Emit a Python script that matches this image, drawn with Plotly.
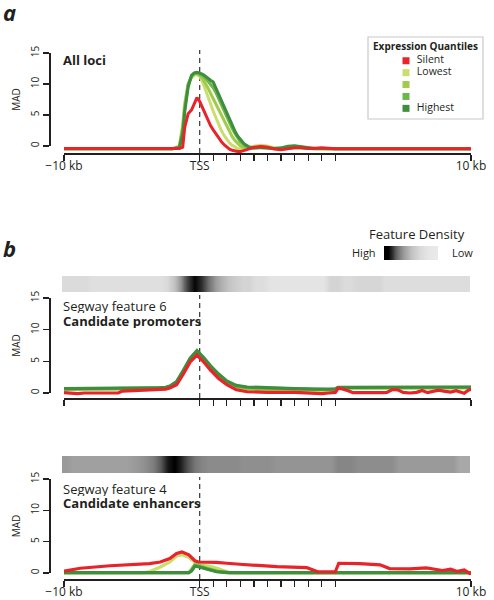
import plotly.graph_objects as go

# ---------------- data ----------------
TICK_POS = [0, 10, 11, 12, 13, 14, 15, 16, 17, 18, 19, 20, 30]
TICK_TEXT = ["\u221210 kb", "TSS", "", "", "", "", "", "", "", "", "", "", "10 kb"]
TSS_POS = 10
MAD_TICKS = [0, 5, 10, 15]

QUANTILES = ["Silent", "Lowest", "", "", "Highest"]
COLORS = ["#e8232a", "#cade6d", "#a1cb4b", "#6fb649", "#3e8e3e"]

# Panel a: all loci
XA = [0, 8.0, 8.5, 8.75, 8.9, 9.15, 9.4, 9.6, 9.8, 10.0, 10.2, 10.4, 10.6, 10.8, 11.0,
      11.2, 11.4, 11.6, 11.8, 12.0, 12.2, 12.4, 12.6, 12.8, 13.0, 13.3, 13.6, 14.0, 14.5,
      15.0, 15.5, 16.0, 16.5, 17.0, 17.5, 18.0, 18.5, 19.0, 20.0, 30]
A_SILENT = [-0.4, -0.4, -0.4, -0.2, 3.0, 5.2, 5.8, 6.8, 7.8, 7.2, 6.2, 5.2, 4.2, 3.3, 2.6,
            1.9, 1.3, 0.7, 0.2, -0.2, -0.5, -0.7, -0.85, -0.9, -0.9, -0.75, -0.5, -0.2, -0.1,
            -0.2, -0.5, -0.6, -0.45, -0.3, -0.3, -0.4, -0.35, -0.3, -0.45, -0.45]
A_LOWEST = [-0.45, -0.45, 0.0, 3.5, 7.0, 10.0, 11.0, 11.4, 11.6, 11.2, 10.4, 9.3, 8.0, 6.8, 5.6,
            4.5, 3.4, 2.5, 1.7, 1.0, 0.5, 0.1, -0.2, -0.4, -0.5, -0.5, -0.35, -0.05, 0.1,
            0.0, -0.3, -0.45, -0.4, -0.3, -0.35, -0.4, -0.45, -0.4, -0.45, -0.45]
A_Q2 = [-0.45, -0.45, -0.1, 3.0, 6.5, 10.0, 11.2, 11.6, 11.7, 11.4, 10.9, 10.2, 9.4, 8.5, 7.6,
        6.7, 5.8, 4.9, 4.0, 3.1, 2.3, 1.5, 0.9, 0.4, 0.0, -0.3, -0.4, -0.3, -0.1,
        -0.2, -0.4, -0.4, -0.3, -0.2, -0.3, -0.4, -0.45, -0.4, -0.45, -0.45]
A_Q3 = [-0.45, -0.45, -0.2, 2.5, 6.0, 9.8, 11.3, 11.7, 11.8, 11.6, 11.4, 11.0, 10.5, 10.0, 9.4,
        8.6, 7.6, 6.6, 5.6, 4.6, 3.7, 2.8, 2.0, 1.3, 0.7, 0.1, -0.3, -0.35, -0.2,
        -0.3, -0.4, -0.35, -0.15, -0.05, -0.2, -0.4, -0.45, -0.4, -0.45, -0.45]
A_HIGHEST = [-0.45, -0.45, -0.3, 2.0, 5.5, 9.5, 11.4, 11.8, 11.9, 11.8, 11.6, 11.3, 10.9, 10.6, 10.3,
             9.3, 8.3, 7.3, 6.2, 5.2, 4.2, 3.2, 2.4, 1.6, 1.0, 0.3, -0.1, -0.3, -0.3,
             -0.35, -0.4, -0.3, -0.05, 0.05, -0.1, -0.35, -0.4, -0.4, -0.45, -0.45]

# Panel b (top): Segway feature 6, candidate promoters
XB1 = [0, 0.5, 1, 1.5, 2, 4, 4.3, 6, 7, 7.5, 7.8, 8.3, 8.8, 9.3, 9.8, 10.3, 10.8, 11.4, 12.0,
       12.7, 13.5, 15, 17, 18.5, 19.0, 19.5, 20.0, 20.2, 20.6, 21.0, 21.3, 23.5, 23.8, 24.2,
       24.6, 25.0, 25.5, 26.0, 26.4, 26.8, 27.2, 27.6, 28.0, 28.5, 28.9, 29.2, 29.5, 29.8, 30]
B1_SILENT = [0.05, 0.0, -0.1, 0.0, 0.0, 0.0, 0.3, 0.45, 0.5, 0.6, 0.8, 1.3, 3.0, 4.9, 6.0,
             4.9, 3.6, 2.3, 1.3, 0.5, 0.2, 0.1, 0.1, 0.0, -0.1, 0.0, 0.1, 0.75, 0.6, 0.3,
             0.05, 0.05, 0.1, 0.55, 0.5, 0.1, 0.0, 0.1, 0.4, 0.05, 0.2, 0.45, 0.3, 0.15, 0.35,
             0.2, -0.05, 0.45, 0.6]
B1_LOWEST = [0.55, 0.55, 0.55, 0.55, 0.55, 0.6, 0.6, 0.65, 0.7, 0.75, 0.95, 1.5, 3.3, 5.2, 6.4,
             5.0, 3.7, 2.5, 1.5, 0.8, 0.55, 0.45, 0.4, 0.35, 0.3, 0.35, 0.4, 0.75, 0.75, 0.75,
             0.75, 0.75, 0.75, 0.75, 0.75, 0.75, 0.75, 0.75, 0.75, 0.75, 0.75, 0.75, 0.75, 0.75, 0.75,
             0.75, 0.75, 0.8, 0.8]
B1_Q2 = [0.6, 0.6, 0.6, 0.6, 0.6, 0.65, 0.65, 0.7, 0.75, 0.8, 1.0, 1.6, 3.4, 5.3, 6.5,
         5.2, 3.9, 2.6, 1.6, 0.9, 0.7, 0.6, 0.55, 0.5, 0.45, 0.5, 0.55, 0.8, 0.8, 0.8,
         0.8, 0.8, 0.8, 0.8, 0.8, 0.8, 0.8, 0.8, 0.8, 0.8, 0.8, 0.8, 0.8, 0.8, 0.8,
         0.8, 0.8, 0.85, 0.85]
B1_Q3 = [0.65, 0.65, 0.65, 0.65, 0.65, 0.7, 0.7, 0.75, 0.8, 0.85, 1.05, 1.7, 3.5, 5.4, 6.6,
         5.4, 4.1, 2.8, 1.75, 1.05, 0.85, 0.75, 0.65, 0.55, 0.5, 0.55, 0.6, 0.85, 0.85, 0.85,
         0.85, 0.85, 0.85, 0.85, 0.85, 0.85, 0.85, 0.85, 0.85, 0.85, 0.85, 0.85, 0.85, 0.85, 0.85,
         0.85, 0.85, 0.9, 0.9]
B1_HIGHEST = [0.7, 0.7, 0.7, 0.7, 0.7, 0.75, 0.75, 0.8, 0.85, 0.9, 1.1, 1.8, 3.6, 5.5, 6.7,
              5.6, 4.3, 3.0, 1.9, 1.2, 0.95, 0.8, 0.7, 0.6, 0.55, 0.6, 0.65, 0.9, 0.9, 0.9,
              0.9, 0.9, 0.9, 0.88, 0.88, 0.88, 0.88, 0.88, 0.9, 0.9, 0.9, 0.9, 0.9, 0.9, 0.9,
              0.9, 0.92, 0.95, 0.95]

# Panel b (bottom): Segway feature 4, candidate enhancers
XB2 = [0, 1.2, 3.4, 5.9, 6.3, 7.1, 7.8, 8.3, 8.7, 9.2, 9.4, 9.65, 9.9, 10.0, 10.5, 11.25, 12.0,
       12.2, 13.2, 15.7, 17.9, 18.7, 20.0, 20.25, 21.8, 23.3, 24.0, 25.5, 26.7, 27.9, 28.5,
       29.0, 29.5, 30]
B2_SILENT = [0.3, 0.75, 1.15, 1.45, 1.5, 1.75, 2.3, 3.1, 3.35, 2.9, 2.5, 1.95, 1.75, 1.75, 1.75,
             1.7, 1.55, 1.5, 1.35, 1.0, 0.85, 0.2, 0.2, 1.55, 1.5, 1.3, 0.7, 0.65, 0.8, 0.4,
             0.6, 0.25, 0.5, -0.2]
B2_LOWEST = [0.05, 0.05, 0.05, 0.05, 0.2, 0.95, 1.75, 2.7, 2.9, 2.5, 2.1, 1.7, 1.6, 1.55, 1.2,
             0.8, 0.15, 0.05, 0.05, 0.05, 0.05, 0.05, 0.05, 0.05, 0.05, 0.05, 0.05, 0.05, 0.05,
             0.05, 0.05, 0.05, 0.05, 0.05]
B2_Q2 = [0.05, 0.05, 0.05, 0.05, 0.05, 0.05, 0.05, 0.05, 0.05, 0.05, 0.6, 1.4, 1.3, 1.2, 0.8,
         0.35, 0.05, 0.05, 0.05, 0.05, 0.05, 0.05, 0.05, 0.05, 0.05, 0.05, 0.05, 0.05, 0.05,
         0.05, 0.05, 0.05, 0.05, 0.05]
B2_Q3 = [0.05, 0.05, 0.05, 0.05, 0.05, 0.05, 0.05, 0.05, 0.05, 0.05, 0.4, 1.2, 1.1, 1.05, 0.7,
         0.25, 0.05, 0.05, 0.05, 0.05, 0.05, 0.05, 0.05, 0.05, 0.05, 0.05, 0.05, 0.05, 0.05,
         0.05, 0.05, 0.05, 0.05, 0.05]
B2_HIGHEST = [0.05, 0.05, 0.05, 0.05, 0.05, 0.05, 0.05, 0.05, 0.05, 0.05, 0.3, 1.1, 1.0, 0.95, 0.6,
              0.2, 0.05, 0.05, 0.05, 0.05, 0.05, 0.05, 0.05, 0.05, 0.05, 0.05, 0.05, 0.05, 0.05,
              0.05, 0.05, 0.05, 0.05, 0.05]

# Feature density strips (60 bins of 0.5 units each; 1 = high density)
PROMOTER_DENSITY = [0.07, 0.07, 0.07, 0.07, 0.05, 0.05, 0.05, 0.05, 0.05, 0.05,
                    0.05, 0.05, 0.05, 0.05, 0.05, 0.08, 0.18, 0.39, 0.73, 0.98,
                    0.80, 0.52, 0.35, 0.25, 0.17, 0.13, 0.10, 0.10, 0.06, 0.06,
                    0.03, 0.03, 0.03, 0.03, 0.03, 0.03, 0.03, 0.03, 0.03, 0.10,
                    0.10, 0.07, 0.07, 0.09, 0.09, 0.09, 0.09, 0.06, 0.06, 0.06,
                    0.06, 0.06, 0.06, 0.06, 0.06, 0.06, 0.06, 0.06, 0.06, 0.06]
ENHANCER_DENSITY = [0.35, 0.32, 0.32, 0.32, 0.32, 0.32, 0.32, 0.32, 0.32, 0.32,
                    0.34, 0.37, 0.41, 0.47, 0.62, 0.90, 1.00, 0.85, 0.65, 0.50,
                    0.44, 0.41, 0.41, 0.41, 0.41, 0.41, 0.39, 0.39, 0.39, 0.39,
                    0.39, 0.37, 0.37, 0.37, 0.37, 0.37, 0.37, 0.37, 0.37, 0.37,
                    0.43, 0.43, 0.43, 0.40, 0.40, 0.40, 0.40, 0.40, 0.40, 0.345,
                    0.345, 0.345, 0.345, 0.345, 0.345, 0.345, 0.345, 0.345, 0.285, 0.285]
KEY_LEVELS = [1.0, 0.6, 0.35, 0.18, 0.08, 0.03, 0.01]

# ---------------- figure ----------------
W, H = 494, 600
FONT = "Open Sans"
INK = "#231f20"
GRAY_SCALE = [[0, "#ebebeb"], [1, "#000000"]]


def ydom(top_px, bottom_px):
    return [1 - bottom_px / H, 1 - top_px / H]


XDOM = [64 / W, 471 / W]
STRIP_XDOM = [62 / W, 470 / W]

fig = go.Figure()

panels = [
    ("x", "y", XA, [A_SILENT, A_LOWEST, A_Q2, A_Q3, A_HIGHEST], 3.0),
    ("x3", "y3", XB1, [B1_SILENT, B1_LOWEST, B1_Q2, B1_Q3, B1_HIGHEST], 3.2),
    ("x6", "y6", XB2, [B2_SILENT, B2_LOWEST, B2_Q2, B2_Q3, B2_HIGHEST], 3.2),
]
for xa, ya, xs, series, lw in panels:
    # greens from lowest to highest, silent (red) drawn on top
    for idx in [1, 2, 3, 4, 0]:
        fig.add_trace(go.Scatter(
            x=xs, y=series[idx], mode="lines", xaxis=xa, yaxis=ya,
            line=dict(color=COLORS[idx], width=lw), showlegend=False,
            name=QUANTILES[idx] or "quantile", hoverinfo="skip"))

# empty traces that carry the MAD axes
for xa, ya in [("x2", "y2"), ("x4", "y4"), ("x7", "y7")]:
    fig.add_trace(go.Scatter(x=[], y=[], xaxis=xa, yaxis=ya, showlegend=False,
                             hoverinfo="skip"))

# density strips
for xa, ya, dens in [("x5", "y5", PROMOTER_DENSITY), ("x8", "y8", ENHANCER_DENSITY)]:
    fig.add_trace(go.Heatmap(z=[dens], x0=0.25, dx=0.5, xaxis=xa, yaxis=ya,
                             zmin=0, zmax=1, colorscale=GRAY_SCALE, showscale=False,
                             zsmooth="best", hoverinfo="skip"))

# density key
fig.add_trace(go.Heatmap(z=[KEY_LEVELS], xaxis="x9", yaxis="y9", zmin=0, zmax=1,
                         colorscale=GRAY_SCALE, showscale=False, zsmooth="best",
                         hoverinfo="skip"))

# expression quantile key
fig.add_trace(go.Scatter(
    x=[0 for _ in QUANTILES], y=list(range(len(QUANTILES))), xaxis="x10", yaxis="y10",
    mode="markers+text", text=QUANTILES, texttemplate="\u00a0\u00a0%{text}",
    textposition="middle right",
    textfont=dict(family=FONT, size=10.5, color=INK),
    marker=dict(symbol="square", size=7, color=COLORS),
    cliponaxis=False, showlegend=False, hoverinfo="skip"))

hidden = dict(visible=False, showgrid=False, zeroline=False)


def data_x(anchor, labels):
    return dict(domain=XDOM, range=[0, 30], anchor=anchor, showline=True,
                linecolor=INK, linewidth=1.5, ticks="outside", ticklen=6, tickwidth=1.3,
                tickcolor=INK, tickvals=TICK_POS, ticktext=TICK_TEXT,
                showticklabels=labels, tickfont=dict(family=FONT, size=12, color=INK),
                ticklabelstandoff=-5,
                showgrid=False, zeroline=False, automargin=False)


def mad_axis(top_px, bottom_px):
    return dict(domain=ydom(top_px, bottom_px), range=[0, 15], anchor="free",
                position=49 / W, showline=True, linecolor=INK, linewidth=1.5,
                ticks="outside", ticklen=6, tickwidth=1.3, tickcolor=INK,
                tickvals=MAD_TICKS, tickangle=-90,
                tickfont=dict(family=FONT, size=10, color=INK),
                title=dict(text="MAD", font=dict(family=FONT, size=10, color=INK),
                           standoff=4),
                showgrid=False, zeroline=False, automargin=False)


layout_axes = dict(
    xaxis=data_x("y", True),
    yaxis=dict(domain=ydom(50, 153), range=[-1.13, 15.48], **hidden),
    xaxis2=dict(domain=XDOM, range=[0, 30], anchor="y2", **hidden),
    yaxis2=mad_axis(53, 146),
    xaxis3=data_x("y3", False),
    yaxis3=dict(domain=ydom(295, 398), range=[-0.79, 15.48], **hidden),
    xaxis4=dict(domain=XDOM, range=[0, 30], anchor="y4", **hidden),
    yaxis4=mad_axis(298, 393),
    xaxis5=dict(domain=STRIP_XDOM, range=[0, 30], anchor="y5", **hidden),
    yaxis5=dict(domain=ydom(276, 292), range=[-0.5, 0.5], anchor="x5", **hidden),
    xaxis6=data_x("y6", True),
    yaxis6=dict(domain=ydom(477, 579), range=[-0.96, 15.31], **hidden),
    xaxis7=dict(domain=XDOM, range=[0, 30], anchor="y7", **hidden),
    yaxis7=mad_axis(479, 573),
    xaxis8=dict(domain=STRIP_XDOM, range=[0, 30], anchor="y8", **hidden),
    yaxis8=dict(domain=ydom(456, 473), range=[-0.5, 0.5], anchor="x8", **hidden),
    xaxis9=dict(domain=[384 / W, 438 / W], range=[-0.5, len(KEY_LEVELS) - 0.5],
                anchor="y9", **hidden),
    yaxis9=dict(domain=ydom(246, 260), range=[-0.5, 0.5], anchor="x9", **hidden),
    xaxis10=dict(domain=[400 / W, 412 / W], range=[-1, 1], anchor="y10", **hidden),
    yaxis10=dict(domain=ydom(54.8, 114.3), range=[len(QUANTILES) - 0.5, -0.5],
                 anchor="x10", **hidden),
)

shapes = []
for xa, ya in [("x", "y"), ("x3", "y3"), ("x6", "y6")]:
    shapes.append(dict(type="line", xref=xa, x0=TSS_POS, x1=TSS_POS,
                       yref=ya + " domain", y0=0, y1=1,
                       line=dict(color="#444444", width=1.3, dash="5px,4px"), layer="below"))
# quantile key frame
shapes.append(dict(type="rect", xref="paper", yref="paper",
                   x0=368 / W, x1=483 / W, y0=1 - 119 / H, y1=1 - 37 / H,
                   line=dict(color="#c8c8c8", width=1.2), fillcolor="rgba(0,0,0,0)",
                   layer="below"))


def note(text, xpx, ypx, size, xanchor="left", bold=False, italic=False, color=INK,
         box_h=None):
    if bold:
        text = "<b>" + text + "</b>"
    if italic:
        text = "<i>" + text + "</i>"
    ann = dict(text=text, x=xpx / W, y=1 - ypx / H, xref="paper", yref="paper",
               xanchor=xanchor, yanchor="middle", showarrow=False, borderpad=0,
               font=dict(family=FONT, size=size, color=color))
    if box_h is not None:
        ann["height"] = box_h
        ann["valign"] = "middle"
    return ann


annotations = [
    note("a", 2, 12, 22, bold=True, italic=True, box_h=22),
    note("b", 2, 248, 22, bold=True, italic=True, box_h=22),
    note("All loci", 62, 60, 13, bold=True),
    note("Segway feature 6", 62, 306, 13, box_h=14),
    note("Candidate promoters", 62, 321, 13, bold=True, box_h=14),
    note("Segway feature 4", 62, 489, 13, box_h=14),
    note("Candidate enhancers", 62, 503, 13, bold=True, box_h=14),
    note("Feature Density", 417, 234, 13, xanchor="center"),
    note("High", 364, 253, 11, xanchor="center"),
    note("Low", 462, 253, 11, xanchor="center"),
    note("Expression Quantiles", 425.5, 46, 10, xanchor="center", bold=True),
]

fig.update_layout(
    width=W, height=H, autosize=False,
    margin=dict(l=0, r=0, t=0, b=0, pad=0, autoexpand=False),
    paper_bgcolor="white", plot_bgcolor="rgba(0,0,0,0)",
    font=dict(family=FONT, color=INK),
    showlegend=False,
    shapes=shapes, annotations=annotations,
    **layout_axes,
)

fig.write_html("out.html",
               config={"displayModeBar": False, "staticPlot": True},
               post_script="document.body.style.margin='0';document.body.style.overflow='hidden';")
